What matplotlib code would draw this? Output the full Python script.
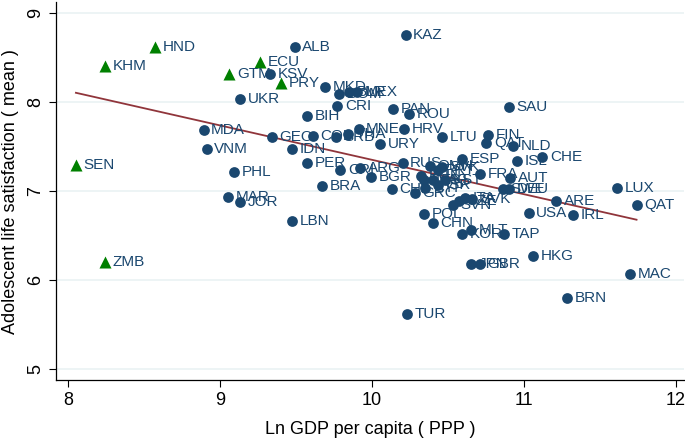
import numpy as np
import matplotlib
matplotlib.use("Agg")
import matplotlib.pyplot as plt

plt.rcParams['font.family'] = ['Liberation Sans', 'DejaVu Sans']

# green triangles
tri_names = ["HND", "KHM", "GTM", "ECU", "PRY", "SEN", "ZMB"]
tri_x = [8.57, 8.24, 9.06, 9.26, 9.40, 8.05, 8.24]
tri_y = [8.62, 8.40, 8.32, 8.45, 8.21, 7.29, 6.21]

# navy circles
dot_names = ["ALB", "KSV", "UKR", "MDA", "VNM", "PHL", "MAR", "JOR", "GEO", "IDN",
             "LBN", "KAZ", "MKD", "DOM", "BLR", "MEX", "CRI", "BIH", "PAN", "ROU",
             "SAU", "COL", "SRB", "THA", "MNE", "URY", "HRV", "LTU", "FIN", "QAT",
             "NLD", "ISL", "CHE", "ESP", "FRA", "AUT", "SWE", "DEU", "ARE", "LUX",
             "QAT", "USA", "IRL", "KOR", "MLT", "TAP", "HKG", "JPN", "GBR", "MAC",
             "BRN", "TUR", "POL", "CHN", "SVN", "CZE", "ITA", "SVK", "GRC", "CYP",
             "CHL", "BGR", "ARG", "CRI", "RUS", "PER", "BRA", "OMN", "PRT", "SVK",
             "HUN", "LVA", "EST", "ISR", "KST"]
dot_x = [9.49, 9.33, 9.13, 8.89, 8.91, 9.09, 9.05, 9.13, 9.34, 9.47,
         9.47, 10.22, 9.69, 9.78, 9.85, 9.90, 9.77, 9.57, 10.14, 10.24,
         10.90, 9.61, 9.76, 9.84, 9.91, 10.05, 10.21, 10.46, 10.76, 10.75,
         10.93, 10.95, 11.12, 10.59, 10.71, 10.91, 10.86, 10.90, 11.21, 11.61,
         11.74, 11.03, 11.32, 10.59, 10.65, 10.87, 11.06, 10.65, 10.71, 11.70,
         11.28, 10.23, 10.34, 10.40, 10.53, 10.57, 10.61, 10.66, 10.28, 10.35,
         10.13, 9.99, 9.92, 9.79, 10.20, 9.57, 9.67, 10.38, 10.43, 10.46,
         10.32, 10.34, 10.40, 10.43, 10.48]
dot_y = [8.62, 8.32, 8.03, 7.69, 7.47, 7.21, 6.94, 6.88, 7.61, 7.47,
         6.66, 8.75, 8.17, 8.09, 8.11, 8.11, 7.96, 7.84, 7.92, 7.87,
         7.94, 7.62, 7.61, 7.64, 7.70, 7.53, 7.70, 7.61, 7.63, 7.54,
         7.51, 7.34, 7.38, 7.36, 7.19, 7.15, 7.02, 7.02, 6.89, 7.03,
         6.84, 6.75, 6.73, 6.52, 6.57, 6.52, 6.27, 6.18, 6.18, 6.07,
         5.80, 5.62, 6.74, 6.64, 6.85, 6.89, 6.92, 6.91, 6.98, 7.03,
         7.02, 7.16, 7.26, 7.24, 7.32, 7.32, 7.06, 7.28, 7.24, 7.27,
         7.17, 7.12, 7.12, 7.07, 7.12]

navy = "#1a476f"
green = "#008000"
maroon = "#90353b"

fig = plt.figure(figsize=(6.85, 4.41), dpi=100)
ax = fig.add_axes([0.082, 0.138, 0.916, 0.857])

ax.scatter(dot_x, dot_y, s=60, color=navy, marker="o", linewidths=0, zorder=3)
ax.scatter(tri_x, tri_y, s=75, color=green, marker="^", linewidths=0, zorder=3)

for n, x, y in zip(dot_names, dot_x, dot_y):
    ax.annotate(n, (x, y), xytext=(5.5, 0), textcoords="offset points",
                va="center", ha="left", fontsize=11, color=navy, zorder=4)
for n, x, y in zip(tri_names, tri_x, tri_y):
    ax.annotate(n, (x, y), xytext=(5.5, 0), textcoords="offset points",
                va="center", ha="left", fontsize=11, color=navy, zorder=4)

# linear fit over all countries
all_x = np.array(tri_x + dot_x)
all_y = np.array(tri_y + dot_y)
b, a = np.polyfit(all_x, all_y, 1)
xs = np.array([all_x.min(), all_x.max()])
ax.plot(xs, a + b * xs, color=maroon, lw=1.3, zorder=2)

ax.set_xlim(7.92, 12.05)
ax.set_ylim(4.88, 9.12)
ax.set_xticks([8, 9, 10, 11, 12])
ax.set_yticks([5, 6, 7, 8, 9])
ax.set_yticklabels(["5", "6", "7", "8", "9"], rotation=90, va="center")
ax.tick_params(labelsize=13, length=5, width=0.8, color="black")
ax.grid(axis="y", color="#eaf2f3", lw=1.2)
ax.set_axisbelow(True)
for s in ["top", "right"]:
    ax.spines[s].set_visible(False)
ax.spines["left"].set_linewidth(0.9)
ax.spines["bottom"].set_linewidth(0.9)

ax.set_xlabel("Ln GDP per capita ( PPP )", fontsize=13, labelpad=9)
ax.set_ylabel("Adolescent life satisfaction ( mean )", fontsize=13, labelpad=6)

fig.savefig("out.png", dpi=100)
